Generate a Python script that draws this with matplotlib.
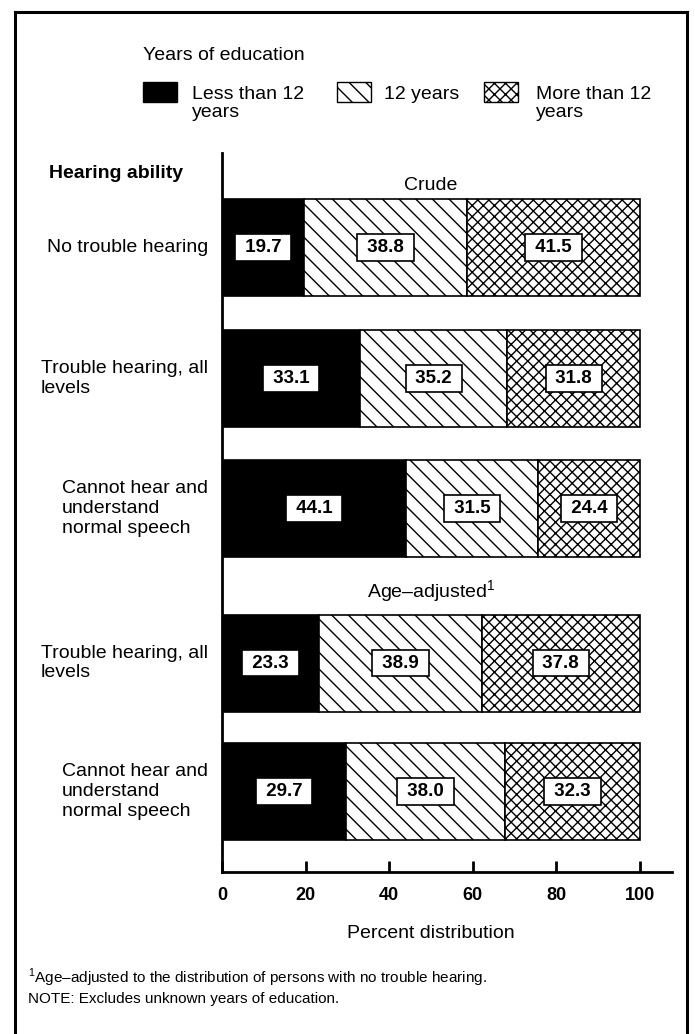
import matplotlib.pyplot as plt
from matplotlib.patches import Rectangle
from matplotlib.lines import Line2D
from matplotlib import transforms

plt.rcParams['font.family'] = ['Liberation Sans', 'DejaVu Sans']
plt.rcParams['mathtext.fontset'] = 'custom'
plt.rcParams['mathtext.rm'] = 'Liberation Sans'
plt.rcParams['hatch.linewidth'] = 1.0

# data
rows = ["No trouble hearing",
        "Trouble hearing, all\nlevels",
        "Cannot hear and\nunderstand\nnormal speech",
        "Trouble hearing, all\nlevels",
        "Cannot hear and\nunderstand\nnormal speech"]
less_12 = [19.7, 33.1, 44.1, 23.3, 29.7]
twelve = [38.8, 35.2, 31.5, 38.9, 38.0]
more_12 = [41.5, 31.8, 24.4, 37.8, 32.3]
series_names = ["Less than 12\nyears", "12 years", "More than 12\nyears"]
xticks = [0, 20, 40, 60, 80, 100]

W, H = 695, 1034
fig = plt.figure(figsize=(W / 100, H / 100), dpi=100)

def fx(x):
    return x / W

def fy(y):
    return 1 - y / H

# axes, y runs in pixel rows from the top
ax = fig.add_axes([fx(222), fy(872), fx(672) - fx(222), fy(153) - fy(872)])
ax.set_xlim(0, 100 * 450 / 418)
ax.set_ylim(872, 153)

row_y = [247.5, 378.5, 508.5, 663, 791.5]
bar_h = 97

styles = [dict(color='black', edgecolor='black'),
          dict(color='white', edgecolor='black', hatch='\\\\'),
          dict(color='white', edgecolor='black', hatch='xxx')]

lefts = [0] * len(rows)
for vals, st in zip([less_12, twelve, more_12], styles):
    ax.barh(row_y, vals, left=lefts, height=bar_h, linewidth=1.2, **st)
    for y, l, v in zip(row_y, lefts, vals):
        ax.text(l + v / 2, y, f" {v:.1f} ", ha='center', va='center',
                fontsize=13.5, fontweight='bold',
                bbox=dict(boxstyle='square,pad=0.26', fc='white', ec='black', lw=1.2))
    lefts = [l + v for l, v in zip(lefts, vals)]

for s in ['top', 'right']:
    ax.spines[s].set_visible(False)
ax.spines['left'].set_linewidth(2)
ax.spines['bottom'].set_linewidth(2)
ax.set_yticks([])
ax.set_xticks(xticks)
ax.tick_params(axis='x', direction='in', length=8, width=2, pad=11, labelsize=13)
for t in ax.get_xticklabels():
    t.set_fontweight('bold')

ax.text(50, 185, "Crude", ha='center', va='center', fontsize=14)
ax.text(50, 592, "Age\u2013adjusted$^{1}$", ha='center', va='center', fontsize=14)

# row labels
tr = transforms.blended_transform_factory(fig.transFigure, ax.transData)
for y, lab in zip(row_y, rows):
    ax.text(fx(208), y, lab, transform=tr, ha='right', va='center',
            multialignment='left', fontsize=14, clip_on=False)

fig.text(fx(49), fy(173), "Hearing ability", fontsize=14, fontweight='bold', va='center')

# legend
fig.text(fx(143), fy(55), "Years of education", fontsize=14, va='center')
leg_x = [143, 337, 484]
txt_x = [192, 384, 536]
for px, tx, name, st in zip(leg_x, txt_x, series_names, styles):
    fig.add_artist(Rectangle((fx(px), fy(102)), 34 / W, 20 / H, transform=fig.transFigure,
                             facecolor=st['color'], edgecolor='black', linewidth=1,
                             hatch=st.get('hatch')))
    fig.text(fx(tx), fy(86), name, fontsize=14, va='top', linespacing=1.1)

fig.text(fx(431), fy(933), "Percent distribution", fontsize=14, ha='center', va='center')
fig.text(fx(28), fy(978), "$^{1}$Age\u2013adjusted to the distribution of persons with no trouble hearing.",
         fontsize=11, va='center')
fig.text(fx(28), fy(999), "NOTE: Excludes unknown years of education.", fontsize=11, va='center')

# frame
for xs, ys in [([15, 15], [1034, 12]), ([15, 687], [12, 12]), ([687, 687], [12, 1034])]:
    fig.add_artist(Line2D([fx(v) for v in xs], [fy(v) for v in ys], lw=2.2, color='black',
                          transform=fig.transFigure))

fig.savefig("out.png", dpi=100)
